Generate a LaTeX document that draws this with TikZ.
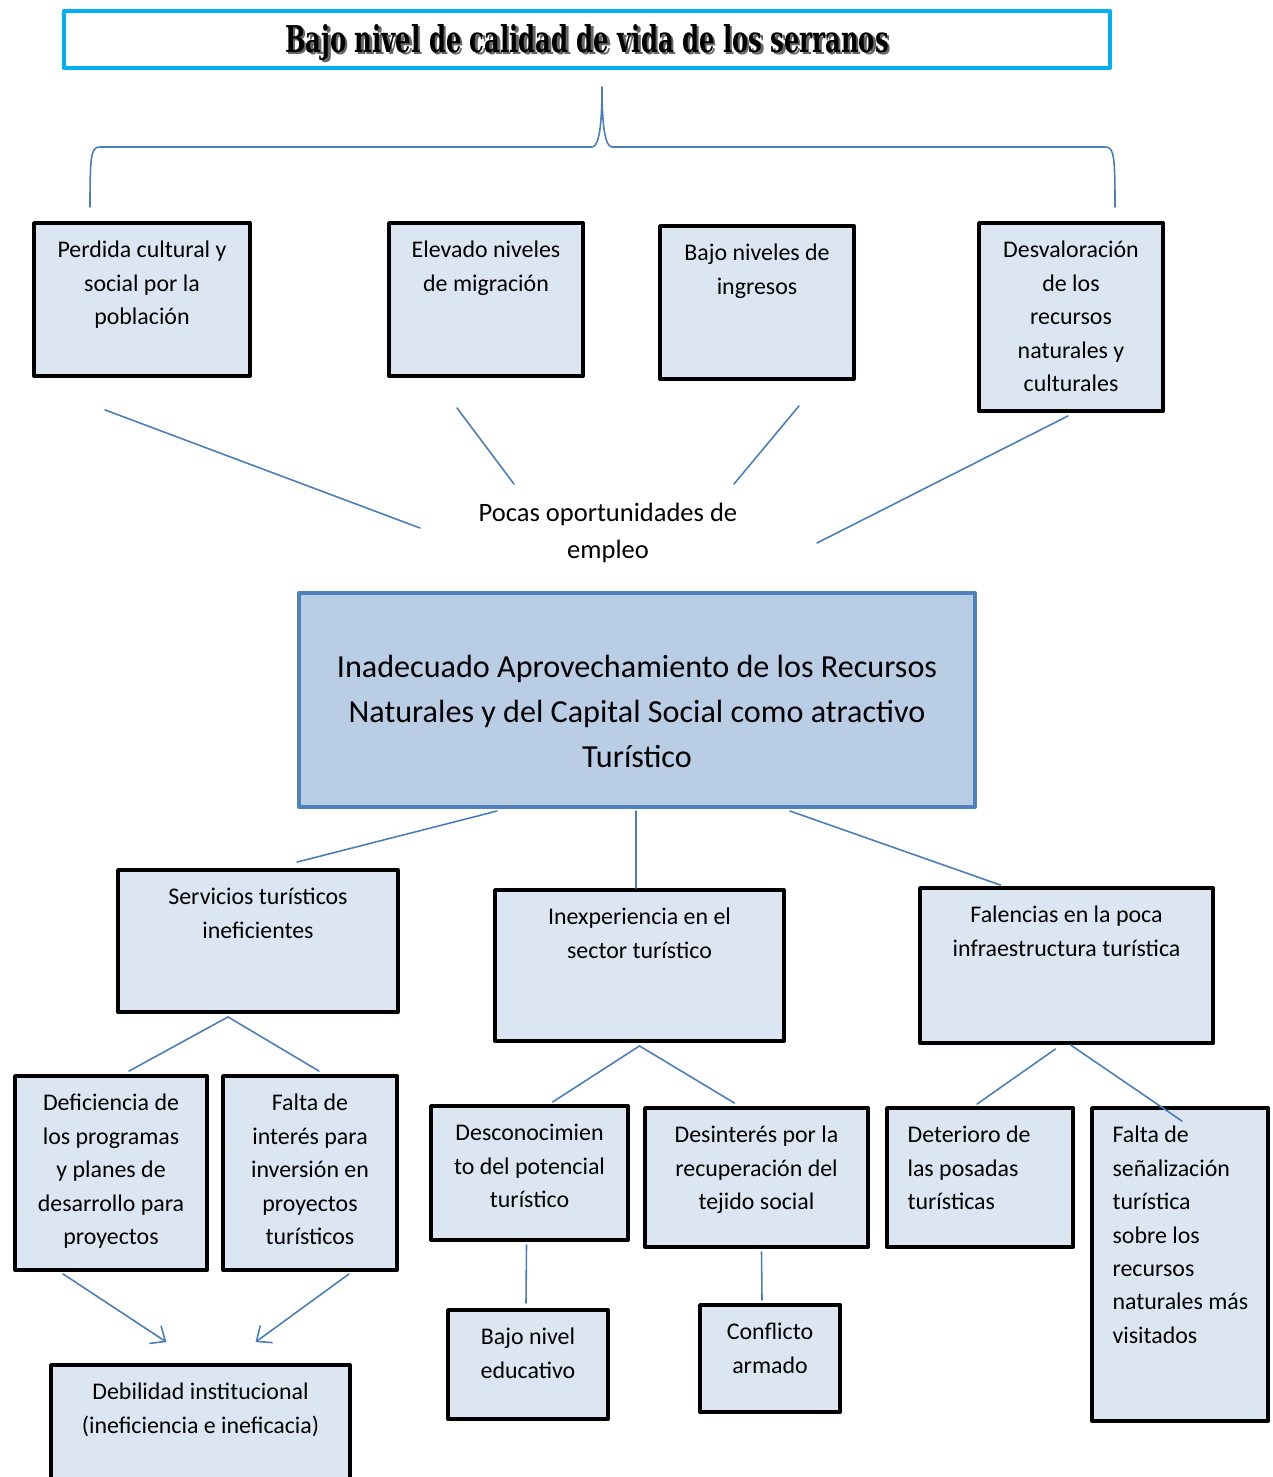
\documentclass[tikz,border=0pt]{standalone}
\usepackage{fontspec}
\usepackage{graphicx}
\setmainfont{Carlito}
\newfontfamily\titlefont{DejaVu Serif}
\usetikzlibrary{calc,arrows.meta}
\definecolor{boxfill}{HTML}{DCE6F2}
\definecolor{mainfill}{HTML}{B9CDE5}
\definecolor{mainborder}{HTML}{4F81BD}
\definecolor{linkblue}{HTML}{4A7EBB}
\definecolor{titlecyan}{HTML}{00B0F0}
\newcommand{\px}{0.02cm}
\newcommand{\boxfont}{\fontsize{13.6}{19}\selectfont}
\begin{document}
\begin{tikzpicture}[x=0.02cm, y=-0.02cm, line join=round, line cap=round,
	>={Straight Barb[length=7pt,width=12pt]},
	box/.style={draw=black, line width=2.2pt, fill=boxfill},
	mainbox/.style={draw=mainborder, line width=2.3pt, fill=mainfill},
	titlebox/.style={draw=titlecyan, line width=2.3pt},
	lab/.style={anchor=north, align=center, inner sep=0pt, yshift=-11.3pt, font=\boxfont, execute at begin node=\strut},
	labl/.style={anchor=north west, align=left, inner sep=0pt, yshift=-11.3pt, xshift=12.6pt, font=\boxfont, execute at begin node=\strut},
	link/.style={draw=linkblue, line width=0.9pt}]
	\useasboundingbox (0,0) rectangle (1272,1477);
	% efecto principal
	\node[titlebox, minimum width=1046*\px, minimum height=57*\px] (title) at (587,39.5) {};
	\node[font=\titlefont\bfseries\fontsize{21}{25}\selectfont, text=black!60] at ($(title.center)+(2.5,5)$) {\scalebox{0.658}[1]{Bajo nivel de calidad de vida de los serranos}};
	\node[font=\titlefont\bfseries\fontsize{21}{25}\selectfont] (titletext) at ($(title.center)+(0,3)$) {\scalebox{0.658}[1]{Bajo nivel de calidad de vida de los serranos}};
	\draw[link] (90,207) .. controls (90,155) and (91,147) .. (100,147) -- (592,147) .. controls (599,147) and (602,125) .. (602,87) .. controls (602,125) and (605,147) .. (612,147) -- (1105,147) .. controls (1114,147) and (1115,155) .. (1115,207);
	% efectos
	\node[box, minimum width=216*\px, minimum height=153*\px, label={[lab]north:Perdida cultural y\\social por la\\población}] (a1) at (142,299.5) {};
	\node[box, minimum width=194*\px, minimum height=153*\px, label={[lab]north:Elevado niveles\\de migración}] (a2) at (486,299.5) {};
	\node[box, minimum width=194*\px, minimum height=153*\px, label={[lab]north:Bajo niveles de\\ingresos}] (a3) at (757,302.5) {};
	\node[box, minimum width=184*\px, minimum height=188*\px, label={[lab]north:Desvaloración\\de los\\recursos\\naturales y\\culturales}] (a4) at (1071,317) {};
	\node[font=\fontsize{15.1}{21.5}\selectfont, align=center] (pocas) at (608,533) {Pocas oportunidades de\\empleo};
	\draw[link] ($(a1.south)+(-37,32)$) -- ($(pocas.center)+(-188,-5)$);
	\draw[link] ($(a2.south)+(-29,30)$) -- ($(pocas.center)+(-94,-49)$);
	\draw[link] ($(a3.south)+(42,25)$) -- ($(pocas.center)+(126,-49)$);
	\draw[link] ($(a4.south)+(-3,3)$) -- ($(pocas.center)+(209,10)$);
	% problema central
	\node[mainbox, minimum width=676*\px, minimum height=214*\px, label={[lab, font=\fontsize{18.3}{25.5}\selectfont, yshift=-25.3pt]north:Inadecuado Aprovechamiento de los Recursos\\Naturales y del Capital Social como atractivo\\Turístico}] (main) at (637,700) {};
	% causas
	\node[box, minimum width=280*\px, minimum height=142*\px, label={[lab]north:Servicios turísticos\\ineficientes}] (b1) at (258,941) {};
	\node[box, minimum width=289*\px, minimum height=151*\px, label={[lab]north:Inexperiencia en el\\sector turístico}] (b2) at (639.5,965.5) {};
	\node[box, minimum width=293*\px, minimum height=155*\px, label={[lab]north:Falencias en la poca\\infraestructura turística}] (b3) at (1066.5,965.5) {};
	\draw[link] ($(main.south)+(-140,2)$) -- ($(b1.north)+(39,-6)$);
	\draw[link] ($(main.south)+(-1,2)$) -- ($(b2.north)+(-3.5,0)$);
	\draw[link] ($(main.south)+(153,2)$) -- ($(b3.north)+(-66,-1)$);
	% subcausas
	\node[box, minimum width=192*\px, minimum height=194*\px, label={[lab]north:Deficiencia de\\los programas\\y planes de\\desarrollo para\\proyectos}] (c1) at (111,1173) {};
	\node[box, minimum width=174*\px, minimum height=194*\px, label={[lab]north:Falta de\\interés para\\inversión en\\proyectos\\turísticos}] (c2) at (310,1173) {};
	\node[box, minimum width=197*\px, minimum height=134*\px, label={[lab]north:Desconocimien\\to del potencial\\turístico}] (c3) at (529.5,1173) {};
	\node[box, minimum width=223*\px, minimum height=139*\px, label={[lab]north:Desinterés por la\\recuperación del\\tejido social}] (c4) at (756.5,1177.5) {};
	\node[box, minimum width=186*\px, minimum height=139*\px, label={[labl]north west:Deterioro de\\las posadas\\turísticas}] (c5) at (980,1177.5) {};
	\node[box, minimum width=176*\px, minimum height=313*\px, label={[labl]north west:Falta de\\señalización\\turística\\sobre los\\recursos\\naturales más\\visitados}] (c6) at (1180,1264.5) {};
	\draw[link] ($(b1.south)+(-30,3)$) -- ($(c1.north)+(18,-3)$);
	\draw[link] ($(b1.south)+(-30,3)$) -- ($(c2.north)+(9,-3)$);
	\draw[link] ($(b2.south)+(0,3)$) -- ($(c3.north)+(23,-2)$);
	\draw[link] ($(b2.south)+(0,3)$) -- ($(c4.north)+(-22,-3)$);
	\draw[link] ($(b3.south)+(-11,4)$) -- ($(c5.north)+(-3,-2)$);
	\draw[link] ($(b3.south)+(4,0)$) -- ($(c6.north)+(2,15)$);
	% causas de fondo
	\node[box, minimum width=299*\px, minimum height=135*\px, label={[lab]north:Debilidad institucional\\(ineficiencia e ineficacia)}] (d1) at (200.5,1432.5) {};
	\node[box, minimum width=160*\px, minimum height=109*\px, label={[lab]north:Bajo nivel\\educativo}] (d2) at (528,1364.5) {};
	\node[box, minimum width=140*\px, minimum height=107*\px, label={[lab]north:Conflicto\\armado}] (d3) at (770,1358.5) {};
	\draw[link] ($(c3.south)+(-3,3)$) -- ($(d2.north)+(-2,-5)$);
	\draw[link] ($(c4.south)+(5,3)$) -- ($(d3.north)+(-8,-3)$);
	\draw[link, ->] ($(c1.south)+(-48,2)$) -- ($(d1.north)+(-34,-21)$);
	\draw[link, ->] ($(c2.south)+(39,2)$) -- ($(d1.north)+(55,-21)$);
\end{tikzpicture}
\end{document}
